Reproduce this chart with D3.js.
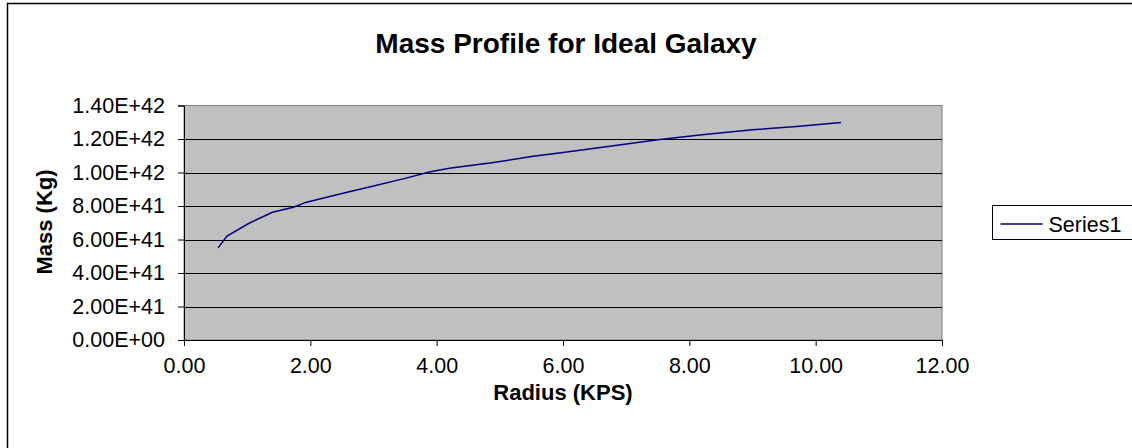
<!DOCTYPE html>
<html>
<head>
<meta charset="utf-8">
<script src="https://cdn.jsdelivr.net/npm/d3@7"></script>
<style>
  body { margin: 0; background: #fff; }
  svg { display: block; font-family: "Liberation Sans", Arial, sans-serif; }
</style>
</head>
<body>
<div id="chart"></div>
<script>
// radius (KPS) and mass (Kg)
const radius = [0.54, 0.68, 1.03, 1.40, 1.73, 1.94, 2.50, 3.00, 3.50, 3.90, 4.20, 4.90, 5.50, 6.00, 6.80, 7.50, 8.20, 9.00, 9.70, 10.40];
const mass = [5.50e41, 6.20e41, 6.97e41, 7.63e41, 7.93e41, 8.23e41, 8.75e41, 9.20e41, 9.65e41, 1.005e42,
  1.025e42, 1.06e42, 1.095e42, 1.12e42, 1.16e42, 1.195e42, 1.225e42, 1.255e42, 1.275e42, 1.298e42];
const xTicks = [0, 2, 4, 6, 8, 10, 12];
const yTicks = [0, 2e41, 4e41, 6e41, 8e41, 1e42, 1.2e42, 1.4e42];
const seriesName = 'Series1';

const W = 1132, H = 448;
const plot = {left: 184, top: 105.5, right: 942, bottom: 340};
const tickFont = '21.5px';

const svg = d3.select('#chart').append('svg')
  .attr('width', W)
  .attr('height', H);

// outer chart border (runs off the right/bottom edge like the original)
svg.append('rect')
  .attr('x', 7.5).attr('y', 3.5)
  .attr('width', W + 20).attr('height', H + 20)
  .attr('fill', '#fff')
  .attr('stroke', '#000')
  .attr('stroke-width', 1.5);

const x = d3.scaleLinear().domain([0, 12]).range([plot.left, plot.right]);
const y = d3.scaleLinear().domain([0, 1.4e42]).range([plot.bottom, plot.top]);

// plot area
svg.append('rect')
  .attr('x', plot.left).attr('y', plot.top)
  .attr('width', plot.right - plot.left).attr('height', plot.bottom - plot.top)
  .attr('fill', '#c0c0c0')
  .attr('stroke', '#808080')
  .attr('stroke-width', 1);

// gridlines
svg.append('g')
  .selectAll('line')
  .data(yTicks.slice(1, -1))
  .join('line')
  .attr('x1', plot.left).attr('x2', plot.right)
  .attr('y1', d => Math.round(y(d)) + 0.5).attr('y2', d => Math.round(y(d)) + 0.5)
  .attr('stroke', '#000')
  .attr('stroke-width', 1);

// axes
const fmtY = d => d3.format('.2e')(d).replace('e+', 'E+').replace(/E\+(\d)$/, 'E+0$1');
const yAxis = svg.append('g')
  .attr('transform', `translate(${plot.left},0)`)
  .call(d3.axisLeft(y).tickValues(yTicks).tickSize(6).tickPadding(13).tickFormat(fmtY));
const xAxis = svg.append('g')
  .attr('transform', `translate(0,${plot.bottom})`)
  .call(d3.axisBottom(x).tickValues(xTicks).tickSize(6).tickPadding(12).tickFormat(d3.format('.2f')));

[yAxis, xAxis].forEach(a => {
  a.select('.domain').attr('stroke', '#000');
  a.selectAll('.tick line').attr('stroke', '#000');
  a.selectAll('text').attr('fill', '#000').style('font-size', tickFont).style('font-family', '"Liberation Sans", Arial, sans-serif');
});

// the series line
const line = d3.line().x((d, i) => x(radius[i])).y(d => y(d));
svg.append('path')
  .datum(mass)
  .attr('d', line)
  .attr('fill', 'none')
  .attr('stroke', '#000080')
  .attr('stroke-width', 1.5);

// titles
svg.append('text')
  .attr('x', 566).attr('y', 53)
  .attr('text-anchor', 'middle')
  .style('font-weight', 'bold').style('font-size', '28px')
  .text('Mass Profile for Ideal Galaxy');

svg.append('text')
  .attr('x', 563).attr('y', 400)
  .attr('text-anchor', 'middle')
  .style('font-weight', 'bold').style('font-size', '22px')
  .text('Radius (KPS)');

svg.append('text')
  .attr('transform', 'translate(52,222) rotate(-90)')
  .attr('text-anchor', 'middle')
  .style('font-weight', 'bold').style('font-size', '22px')
  .text('Mass (Kg)');

// legend
const legend = svg.append('g').attr('transform', 'translate(992.5,205.5)');
legend.append('rect')
  .attr('width', 160).attr('height', 34)
  .attr('fill', '#fff').attr('stroke', '#000').attr('stroke-width', 1);
legend.append('line')
  .attr('x1', 8).attr('x2', 50).attr('y1', 18.5).attr('y2', 18.5)
  .attr('stroke', '#000080').attr('stroke-width', 1.5);
legend.append('text')
  .attr('x', 56).attr('y', 26)
  .style('font-size', tickFont)
  .text(seriesName);
</script>
</body>
</html>
